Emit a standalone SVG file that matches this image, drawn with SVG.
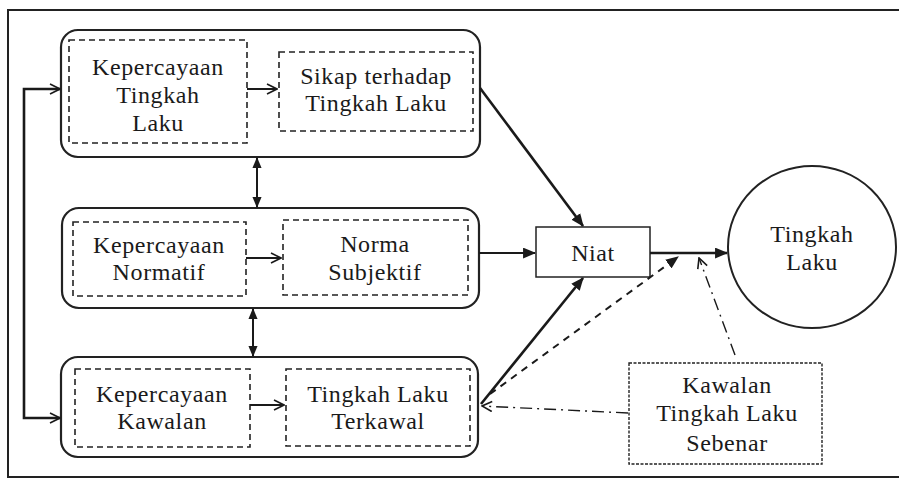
<svg xmlns="http://www.w3.org/2000/svg" width="899" height="479" viewBox="0 0 899 479">
<style>
.frame{fill:none;stroke:#222;stroke-width:2}
.grp{fill:#fff;stroke:#222;stroke-width:2.2}
.dash{fill:none;stroke:#222;stroke-width:1.6;stroke-dasharray:6 4}
.fdash{fill:none;stroke:#222;stroke-width:1.4;stroke-dasharray:3 1.5}
.box{fill:#fff;stroke:#222;stroke-width:1.5}
.ln{fill:none;stroke:#1a1a1a;stroke-width:2}
.thick{fill:none;stroke:#1a1a1a;stroke-width:2.6}
.dashed{fill:none;stroke:#1a1a1a;stroke-width:2;stroke-dasharray:7 6}
.dashdot{fill:none;stroke:#1a1a1a;stroke-width:1.4;stroke-dasharray:12 5 2 5}
</style>
<defs>
<marker id="open" viewBox="0 0 12 12" refX="11" refY="6" markerWidth="12" markerHeight="12" markerUnits="userSpaceOnUse" orient="auto">
<path d="M1,1 L11,6 L1,11" fill="none" stroke="#1a1a1a" stroke-width="1.6"/>
</marker>
<marker id="fill" viewBox="0 0 12 10" refX="11" refY="5" markerWidth="13" markerHeight="11" markerUnits="userSpaceOnUse" orient="auto">
<path d="M0,0 L12,5 L0,10 Z" fill="#1a1a1a"/>
</marker>
<marker id="fillS" viewBox="0 0 12 10" refX="11" refY="5" markerWidth="11" markerHeight="10" markerUnits="userSpaceOnUse" orient="auto-start-reverse">
<path d="M0,0 L12,5 L0,10 Z" fill="#1a1a1a"/>
</marker>
</defs>
<rect width="899" height="479" fill="#fff"/>
<path class="frame" d="M899,10 L8,10 L8,477 L899,477"/>

<g font-family="Liberation Serif, DejaVu Serif, serif" font-size="24" fill="#1a1a1a" text-anchor="middle" letter-spacing="0.6">
<g id="row-tingkah-laku">
<rect class="grp" x="61" y="30" width="419" height="127" rx="17"/>
<g id="kepercayaan-tingkah-laku">
<rect class="dash" x="69" y="40" width="178" height="103"/>
<text x="158" y="75">Kepercayaan</text>
<text x="158" y="103">Tingkah</text>
<text x="158" y="131">Laku</text>
</g>
<g id="sikap">
<rect class="dash" x="279" y="52" width="194" height="79"/>
<text x="376" y="84">Sikap terhadap</text>
<text x="376" y="111">Tingkah Laku</text>
</g>
</g>

<g id="row-normatif">
<rect class="grp" x="62" y="208" width="417" height="100" rx="17"/>
<g id="kepercayaan-normatif">
<rect class="dash" x="73" y="222" width="173" height="74"/>
<text x="159" y="253">Kepercayaan</text>
<text x="159" y="280">Normatif</text>
</g>
<g id="norma-subjektif">
<rect class="dash" x="283" y="220" width="185" height="75"/>
<text x="375" y="252">Norma</text>
<text x="375" y="280">Subjektif</text>
</g>
</g>

<g id="row-kawalan">
<rect class="grp" x="61" y="357" width="417" height="100" rx="17"/>
<g id="kepercayaan-kawalan">
<rect class="dash" x="75" y="369" width="175" height="78"/>
<text x="162" y="402">Kepercayaan</text>
<text x="162" y="429">Kawalan</text>
</g>
<g id="tingkah-laku-terkawal">
<rect class="dash" x="286" y="369" width="184" height="77"/>
<text x="378" y="402">Tingkah Laku</text>
<text x="378" y="429">Terkawal</text>
</g>
</g>

<g id="niat">
<rect class="box" x="536" y="227" width="114" height="50"/>
<text x="593" y="261">Niat</text>
</g>

<g id="tingkah-laku">
<ellipse cx="812" cy="247" rx="84" ry="81" fill="#fff" stroke="#222" stroke-width="2"/>
<text x="812" y="242">Tingkah</text>
<text x="812" y="270">Laku</text>
</g>

<g id="kawalan-sebenar">
<rect class="fdash" x="629" y="363" width="193" height="101" fill="#fff"/>
<text x="727" y="393">Kawalan</text>
<text x="727" y="421">Tingkah Laku</text>
<text x="727" y="451">Sebenar</text>
</g>
</g>

<g id="connectors">
<line class="ln" x1="247" y1="89" x2="277" y2="89" marker-end="url(#open)"/>
<line class="ln" x1="246" y1="258" x2="281" y2="258" marker-end="url(#open)"/>
<line class="ln" x1="250" y1="405" x2="284" y2="405" marker-end="url(#open)"/>
<path class="thick" d="M60,89 L24,89 L24,418 L60,418"/>
<line class="ln" x1="40" y1="89" x2="60" y2="89" marker-end="url(#open)"/>
<line class="ln" x1="40" y1="418" x2="60" y2="418" marker-end="url(#open)"/>
<line class="ln" x1="257" y1="158" x2="257" y2="207" marker-start="url(#fillS)" marker-end="url(#fillS)"/>
<line class="ln" x1="253" y1="309" x2="253" y2="356" marker-start="url(#fillS)" marker-end="url(#fillS)"/>
<line class="thick" x1="480" y1="88" x2="583" y2="226" marker-end="url(#fill)"/>
<line class="ln" x1="479" y1="253" x2="535" y2="253" marker-end="url(#fill)"/>
<line class="thick" x1="481" y1="404" x2="583" y2="278" marker-end="url(#fill)"/>
<line class="thick" x1="650" y1="253" x2="727" y2="253" marker-end="url(#fill)"/>
<line class="dashed" x1="490" y1="394" x2="678" y2="257" marker-end="url(#fill)"/>
<line class="dashdot" x1="735" y1="355" x2="699" y2="258" marker-end="url(#open)"/>
<line class="dashdot" x1="628" y1="413" x2="482" y2="406" marker-end="url(#open)"/>
</g>
</svg>
